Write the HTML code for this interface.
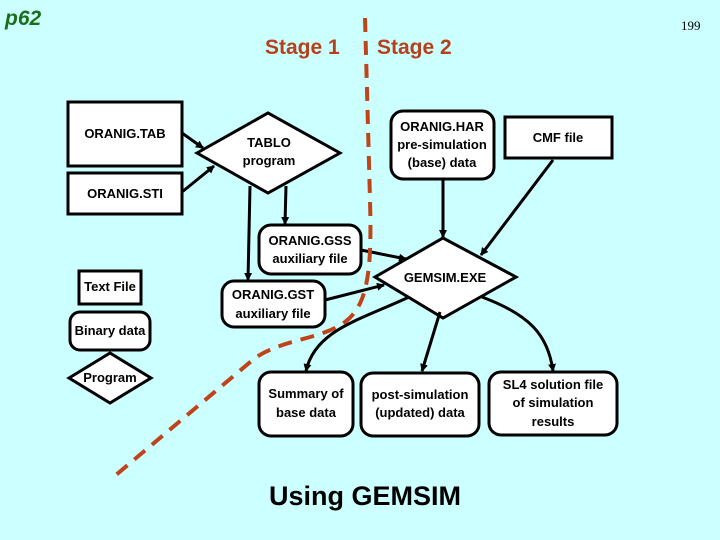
<!DOCTYPE html>
<html><head><meta charset="utf-8"><style>
html,body{margin:0;padding:0;background:#ccffff;}
svg{display:block;font-family:"Liberation Sans",Arial,sans-serif;}
</style></head><body>
<svg width="720" height="540" viewBox="0 0 720 540" xmlns="http://www.w3.org/2000/svg">
<defs>
<marker id="a" markerWidth="8" markerHeight="8" refX="7" refY="4" orient="auto" markerUnits="userSpaceOnUse">
<path d="M0,0 L8,4 L0,8 z" fill="#000"/>
</marker>
</defs>
<rect width="720" height="540" fill="#ccffff"/>
<text x="5" y="25" font-size="21" font-weight="bold" font-style="italic" fill="#1a6e1a">p62</text>
<text x="681" y="30" font-size="13" font-family="Liberation Serif,serif" fill="#000">199</text>
<text x="265" y="54" font-size="21" fill="#b5401a" style="font-weight:600">Stage 1</text>
<text x="377" y="54" font-size="21" fill="#b5401a" style="font-weight:600">Stage 2</text>

<g stroke="#000" stroke-width="3" fill="#fff">
<rect x="68" y="102" width="114" height="64"/>
<rect x="68" y="173" width="114" height="41"/>
<path d="M197,153 L268,113 L340,153 L268,193 z"/>
<rect x="259" y="225" width="102" height="49" rx="12"/>
<rect x="222" y="281" width="103" height="46" rx="12"/>
<rect x="391" y="111" width="103" height="68" rx="12"/>
<rect x="505" y="117" width="107" height="41"/>
<path d="M375,277 L443,238 L516,277 L443,318 z"/>
<rect x="259" y="372" width="94" height="64" rx="12"/>
<rect x="361" y="373" width="118" height="63" rx="12"/>
<rect x="489" y="372" width="128" height="63" rx="12"/>
<rect x="79" y="271" width="62" height="33"/>
<rect x="70" y="312" width="80" height="38" rx="10"/>
<path d="M69,378 L110,353 L151,378 L110,403 z"/>
</g>

<g stroke="#000" stroke-width="3" fill="none" marker-end="url(#a)">
<line x1="182" y1="133" x2="203" y2="148"/>
<line x1="182" y1="192" x2="214" y2="166"/>
<line x1="250" y1="186" x2="248" y2="280"/>
<line x1="286" y1="186" x2="285" y2="224"/>
<line x1="361" y1="250" x2="406" y2="259"/>
<line x1="325" y1="300" x2="384" y2="285"/>
<line x1="443" y1="179" x2="443" y2="237"/>
<line x1="553" y1="160" x2="481" y2="255"/>
<path d="M409,297 C360,320 315,330 306,371"/>
<line x1="440" y1="312" x2="422" y2="371"/>
<path d="M482,297 C530,315 548,335 553,371"/>
</g>

<path d="M365,18 L370,200 C372,270 368,305 345,322 C320,340 285,338 255,358 L110,480" fill="none" stroke="#c0441a" stroke-width="4" stroke-dasharray="14,9"/>

<g font-size="13" font-weight="bold" text-anchor="middle" fill="#000">
<text x="125" y="138">ORANIG.TAB</text>
<text x="125" y="198">ORANIG.STI</text>
<text x="269" y="147">TABLO</text>
<text x="269" y="165">program</text>
<text x="310" y="245">ORANIG.GSS</text>
<text x="310" y="263">auxiliary file</text>
<text x="273" y="299">ORANIG.GST</text>
<text x="273" y="318">auxiliary file</text>
<text x="442" y="131">ORANIG.HAR</text>
<text x="442" y="149">pre-simulation</text>
<text x="442" y="167">(base) data</text>
<text x="558" y="142">CMF file</text>
<text x="445" y="282">GEMSIM.EXE</text>
<text x="306" y="398">Summary of</text>
<text x="306" y="417">base data</text>
<text x="420" y="399">post-simulation</text>
<text x="420" y="417">(updated) data</text>
<text x="553" y="389">SL4 solution file</text>
<text x="553" y="407">of simulation</text>
<text x="553" y="426">results</text>
<text x="110" y="291">Text File</text>
<text x="110" y="335">Binary data</text>
<text x="110" y="382">Program</text>
</g>
<text x="365" y="505" font-size="27" font-weight="bold" text-anchor="middle" fill="#000">Using GEMSIM</text>
</svg>
</body></html>
